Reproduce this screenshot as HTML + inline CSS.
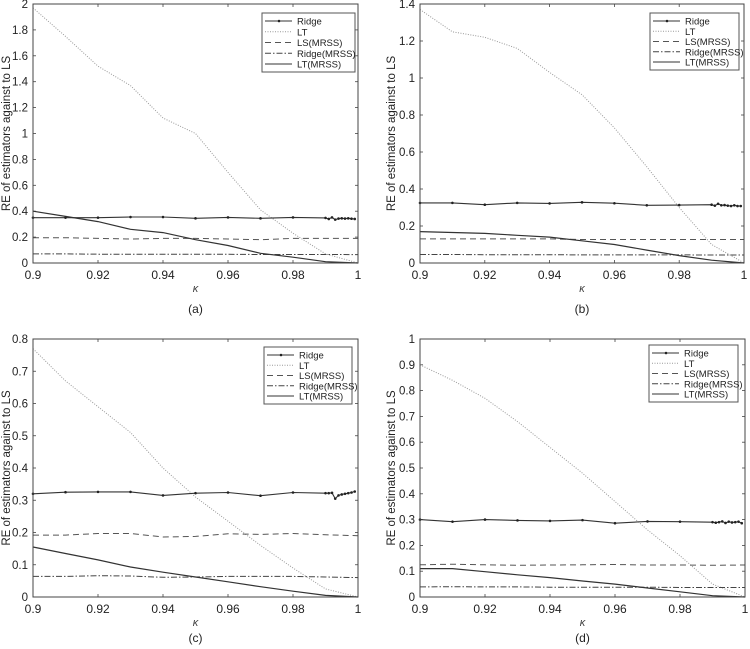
<!DOCTYPE html>
<html><head><meta charset="utf-8">
<style>
html,body{margin:0;padding:0;background:#fff;}
svg{display:block;font-family:"Liberation Sans",Arial,sans-serif;}
</style></head>
<body>
<svg id="fig" width="750" height="649" viewBox="0 0 750 649" xmlns="http://www.w3.org/2000/svg"></svg>
<script>
// shared x values
const kappa = [0.9,0.91,0.92,0.93,0.94,0.95,0.96,0.97,0.98,0.99,1.0];
const kappaFine = [0.9,0.91,0.92,0.93,0.94,0.95,0.96,0.97,0.98,0.99,0.991,0.992,0.993,0.994,0.995,0.996,0.997,0.998,0.999];
const xTicks = [0.9,0.92,0.94,0.96,0.98,1.0];
const xTickLabels = ["0.9","0.92","0.94","0.96","0.98","1"];

// panel (a)
const ridgeA = [0.35,0.35,0.35,0.355,0.355,0.345,0.352,0.345,0.352,0.348,0.34,0.352,0.335,0.343,0.345,0.343,0.345,0.342,0.34];
const ltA = [1.97,1.75,1.52,1.37,1.12,1.0,0.7,0.41,0.23,0.07,0.0];
const lsmA = [0.195,0.195,0.19,0.185,0.19,0.19,0.185,0.18,0.19,0.19,0.19];
const ridgemA = [0.07,0.07,0.068,0.067,0.068,0.068,0.067,0.066,0.066,0.066,0.065];
const ltmA = [0.4,0.36,0.32,0.26,0.235,0.18,0.135,0.075,0.045,0.01,0.0];
const yTicksA = [0,0.2,0.4,0.6,0.8,1,1.2,1.4,1.6,1.8,2];

// panel (b)
const ridgeB = [0.325,0.325,0.315,0.325,0.322,0.328,0.323,0.312,0.313,0.315,0.31,0.32,0.312,0.313,0.31,0.308,0.312,0.308,0.308];
const ltB = [1.37,1.25,1.22,1.16,1.03,0.91,0.73,0.52,0.3,0.1,0.0];
const lsmB = [0.13,0.13,0.13,0.13,0.13,0.127,0.127,0.127,0.127,0.127,0.127];
const ridgemB = [0.046,0.046,0.045,0.045,0.045,0.044,0.044,0.044,0.044,0.043,0.043];
const ltmB = [0.17,0.165,0.16,0.15,0.14,0.12,0.1,0.07,0.04,0.015,0.0];
const yTicksB = [0,0.2,0.4,0.6,0.8,1,1.2,1.4];

// panel (c)
const ridgeC = [0.32,0.325,0.326,0.326,0.315,0.322,0.324,0.314,0.324,0.322,0.322,0.323,0.305,0.315,0.318,0.32,0.322,0.324,0.327];
const ltC = [0.77,0.67,0.59,0.51,0.40,0.31,0.235,0.16,0.09,0.025,0.0];
const lsmC = [0.192,0.192,0.197,0.197,0.186,0.188,0.196,0.194,0.197,0.193,0.19];
const ridgemC = [0.064,0.064,0.066,0.065,0.061,0.062,0.064,0.064,0.064,0.062,0.06];
const ltmC = [0.155,0.135,0.115,0.093,0.077,0.062,0.047,0.032,0.018,0.005,0.0];
const yTicksC = [0,0.1,0.2,0.3,0.4,0.5,0.6,0.7,0.8];

// panel (d)
const ridgeD = [0.3,0.292,0.3,0.297,0.295,0.298,0.286,0.293,0.292,0.29,0.288,0.29,0.293,0.287,0.292,0.289,0.29,0.292,0.286];
const ltD = [0.9,0.84,0.77,0.68,0.58,0.48,0.37,0.26,0.16,0.05,0.0];
const lsmD = [0.125,0.127,0.125,0.123,0.124,0.125,0.126,0.124,0.124,0.123,0.124];
const ridgemD = [0.039,0.04,0.039,0.039,0.038,0.038,0.038,0.038,0.037,0.037,0.037];
const ltmD = [0.11,0.11,0.098,0.086,0.075,0.062,0.05,0.035,0.02,0.005,0.0];
const yTicksD = [0,0.1,0.2,0.3,0.4,0.5,0.6,0.7,0.8,0.9,1];

const NS="http://www.w3.org/2000/svg";
const svg=document.getElementById('fig');
function mk(tag,attrs,parent){const e=document.createElementNS(NS,tag);for(const k in attrs)e.setAttribute(k,attrs[k]);(parent||svg).appendChild(e);return e;}

const panels=[
 {id:'a',L:33,R:358,T:4,B:263,ymax:2,yt:yTicksA,ridge:ridgeA,lt:ltA,lsm:lsmA,rm:ridgemA,ltm:ltmA,leg:[262,13,355,72],ylb:10,tickY:279,kY:292,capY:313},
 {id:'b',L:420,R:744,T:4,B:263,ymax:1.4,yt:yTicksB,ridge:ridgeB,lt:ltB,lsm:lsmB,rm:ridgemB,ltm:ltmB,leg:[650,13,739,70],ylb:395,tickY:279,kY:292,capY:313},
 {id:'c',L:33,R:358,T:339,B:597,ymax:0.8,yt:yTicksC,ridge:ridgeC,lt:ltC,lsm:lsmC,rm:ridgemC,ltm:ltmC,leg:[264,347,352,404],ylb:10,tickY:613,kY:626,capY:642},
 {id:'d',L:420,R:745,T:339,B:597,ymax:1,yt:yTicksD,ridge:ridgeD,lt:ltD,lsm:lsmD,rm:ridgemD,ltm:ltmD,leg:[649,345,738,402],ylb:395,tickY:613,kY:626,capY:642}
];

panels.forEach(p=>{
 const g=mk('g',{});
 
 
 const sx=v=>p.L+(v-0.9)/0.1*(p.R-p.L);
 const sy=v=>p.B-(v/p.ymax)*(p.B-p.T);
 xTicks.forEach((t,i)=>{
  const x=sx(t);
  mk('line',{x1:x,y1:p.B,x2:x,y2:p.B-3,stroke:'#444','stroke-width':0.8},g);
  mk('line',{x1:x,y1:p.T,x2:x,y2:p.T+3,stroke:'#444','stroke-width':0.8},g);
  const tx=mk('text',{x:x,y:p.tickY,'text-anchor':'middle','font-size':12,fill:'#222'},g);
  tx.textContent=xTickLabels[i];
  
  
 });
 p.yt.forEach(t=>{
  const y=sy(t);
  mk('line',{x1:p.L,y1:y,x2:p.L+3,y2:y,stroke:'#444','stroke-width':0.8},g);
  mk('line',{x1:p.R,y1:y,x2:p.R-3,y2:y,stroke:'#444','stroke-width':0.8},g);
  const tx=mk('text',{x:p.L-5,y:y+4,'text-anchor':'end','font-size':11.5,fill:'#222'},g);
  tx.textContent=String(Math.round(t*10)/10);
  
  
 });
 const pts=(xs,ys)=>ys.map((v,i)=>sx(xs[i]).toFixed(1)+','+sy(v).toFixed(1)).join(' ');
 const s1=mk('polyline',{points:pts(kappa,p.lt),fill:'none',stroke:'#999','stroke-width':1,'stroke-dasharray':'1,1.5'},g);
 
 
 const s2=mk('polyline',{points:pts(kappa,p.lsm),fill:'none',stroke:'#555','stroke-width':1,'stroke-dasharray':'6,4'},g);
 
 
 const s3=mk('polyline',{points:pts(kappa,p.rm),fill:'none',stroke:'#444','stroke-width':1,'stroke-dasharray':'6,2,1.5,2'},g);
 
 
 const s4=mk('polyline',{points:pts(kappa,p.ltm),fill:'none',stroke:'#333','stroke-width':1.2},g);
 
 
 const s5=mk('polyline',{points:pts(kappaFine,p.ridge),fill:'none',stroke:'#333','stroke-width':1.1},g);
 
 
 p.ridge.forEach((v,i)=>{
  const c=mk('circle',{cx:sx(kappaFine[i]),cy:sy(v),r:1.3,fill:'#222'},g);
  
  
 });
 const box=mk('rect',{x:p.L,y:p.T,width:p.R-p.L,height:p.B-p.T,fill:'none',stroke:'#444','stroke-width':1},g);
 
 
 const cy=(p.T+p.B)/2;
 const yl=mk('text',{x:p.ylb,y:cy,'text-anchor':'middle','font-size':11.5,fill:'#222',transform:'rotate(-90 '+p.ylb+' '+cy+')'},g);
 yl.textContent='RE of estimators against to LS';
 
 
 const xl=mk('text',{x:(p.L+p.R)/2,y:p.kY,'text-anchor':'middle','font-size':11,'font-style':'italic',fill:'#444'},g);
 xl.textContent='κ';
 
 
 const cap=mk('text',{x:(p.L+p.R)/2,y:p.capY,'text-anchor':'middle','font-size':12,fill:'#222'},g);
 cap.textContent='('+p.id+')';
 
 
 const [lx1,ly1,lx2,ly2]=p.leg;
 const lg=mk('g',{},g);
 
 
 mk('rect',{x:lx1,y:ly1,width:lx2-lx1,height:ly2-ly1,fill:'#fff',stroke:'#555','stroke-width':1},lg);
 const items=[['Ridge','#333',''],['LT','#999','1,1.5'],['LS(MRSS)','#555','6,4'],['Ridge(MRSS)','#444','6,2,1.5,2'],['LT(MRSS)','#333','']];
 const step=(ly2-ly1-16)/4;
 items.forEach((it,i)=>{
  const y=ly1+8+i*step;
  const ln=mk('line',{x1:lx1+3,y1:y,x2:lx1+30,y2:y,stroke:it[1],'stroke-width':1},lg);
  if(it[2])ln.setAttribute('stroke-dasharray',it[2]);
  if(i===0)mk('circle',{cx:lx1+17,cy:y,r:1.3,fill:'#222'},lg);
  const t=mk('text',{x:lx1+35,y:y+3.5,'font-size':9.5,fill:'#222'},lg);
  t.textContent=it[0];
  
  
 });
});
</script>
</body></html>
